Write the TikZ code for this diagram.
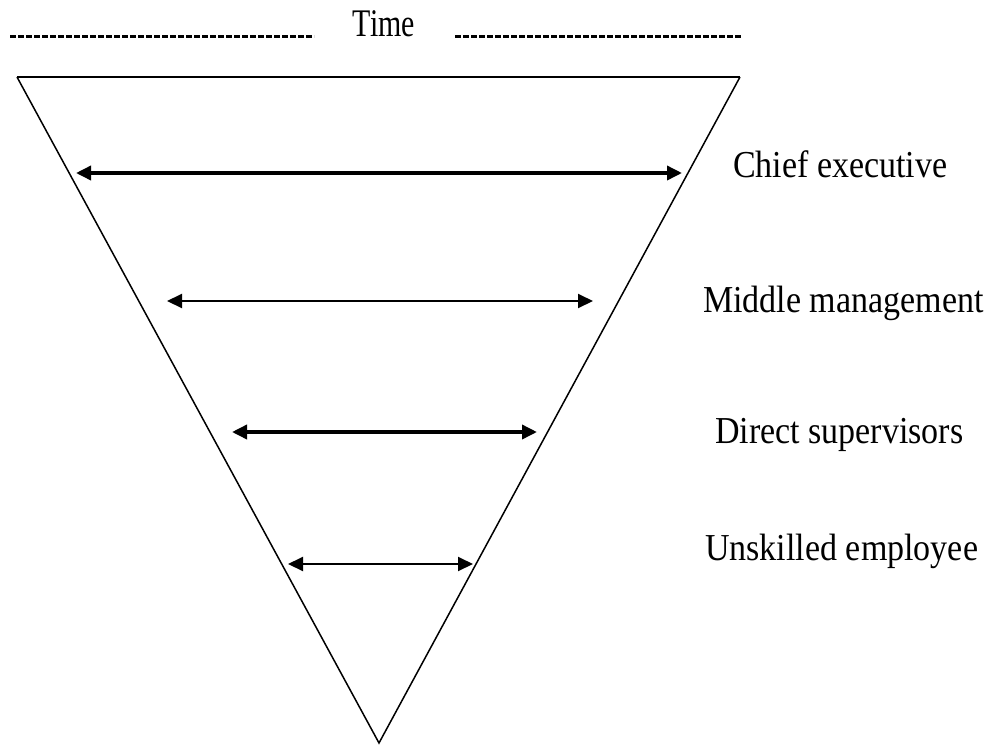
\documentclass[tikz,border=0pt]{standalone}
\usepackage{fontspec}
\setmainfont{Liberation Serif}
\usetikzlibrary{arrows.meta}

\newcommand{\tallword}[1]{\scalebox{1}[1.12]{#1}}

\tikzset{
    level/.style={anchor=base west, inner sep=0pt, font=\fontsize{34}{40}\selectfont},
    span/.style={{Triangle[length=15pt,width=14pt]}-{Triangle[length=15pt,width=14pt]}},
    rule/.style={line width=3pt, dash pattern=on 6pt off 2pt}
}

\begin{document}
\begin{tikzpicture}[x=1pt, y=-1pt]
    \useasboundingbox (0,0) rectangle (986,745);

    % Coordinates for the triangle
    \coordinate (tl) at (17,77);
    \coordinate (tr) at (740,77);
    \coordinate (bt) at (379,743);

    % Time heading
    \node[anchor=base, inner sep=0pt, font=\fontsize{34}{40}\selectfont] (time) at (384,36) {\scalebox{0.88}[1.15]{Time}};
    \draw[rule] (10,36) -- (314,36);
    \draw[rule] (455,36) -- (742,36);

    % Triangle
    \draw[line width=1.5pt, line join=miter] (tl) -- (bt) -- (tr);
    \draw[line width=2.5pt] (tl) -- (tr);

    % Arrow ends
    \coordinate (a1) at (76,173);  \coordinate (b1) at (682,173);
    \coordinate (a2) at (167,301); \coordinate (b2) at (593,301);
    \coordinate (a3) at (232,432); \coordinate (b3) at (537,432);
    \coordinate (a4) at (288,564); \coordinate (b4) at (473,564);

    % Arrows
    \foreach \i/\w in {1/3.5pt, 2/2pt, 3/3.5pt, 4/2pt}
        \draw[span, line width=\w] (a\i) -- (b\i);

    % Labels
    \node[level] (chief) at (733,177) {\tallword{Chief executive}};
    \node[level] (middle) at (703,312) {\tallword{Middle management}};
    \node[level] (direct) at (715,443) {\tallword{Direct supervisors}};
    \node[level] (unskilled) at (705,560) {\tallword{Unskilled employee}};
\end{tikzpicture}
\end{document}
